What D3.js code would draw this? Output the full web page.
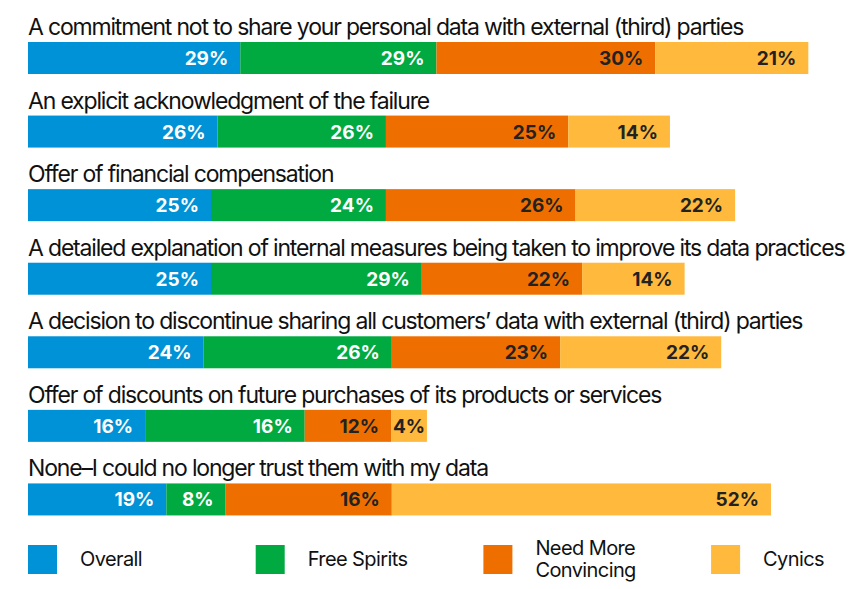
<!DOCTYPE html>
<html>
<head>
<meta charset="utf-8">
<script src="https://cdn.jsdelivr.net/npm/d3@7"></script>
<style>
  body { margin: 0; background: #fff; }
  svg text { font-family: Inter, "Noto Sans", sans-serif; }
</style>
</head>
<body>
<svg id="chart" width="857" height="589"></svg>
<script>
// questions, top to bottom
const questions = [
  "A commitment not to share your personal data with external (third) parties",
  "An explicit acknowledgment of the failure",
  "Offer of financial compensation",
  "A detailed explanation of internal measures being taken to improve its data practices",
  "A decision to discontinue sharing all customers\u2019 data with external (third) parties",
  "Offer of discounts on future purchases of its products or services",
  "None\u2013I could no longer trust them with my data"
];

const groups = ["Overall", "Free Spirits", "Need More Convincing", "Cynics"];

// bar lengths as drawn (percent)
const overall     = [29.0, 25.9, 25.0, 25.0, 24.0, 16.0, 18.9];
const freeSpirits = [26.8, 23.0, 23.9, 28.8, 25.7, 21.8, 8.1];
const needMore    = [29.9, 24.9, 25.9, 21.9, 23.0, 11.8, 22.7];
const cynics      = [20.9, 13.9, 21.8, 14.0, 22.0, 4.9, 51.8];

// printed labels
const overallLbl     = ["29%", "26%", "25%", "25%", "24%", "16%", "19%"];
const freeSpiritsLbl = ["29%", "26%", "24%", "29%", "26%", "16%", "8%"];
const needMoreLbl    = ["30%", "25%", "26%", "22%", "23%", "12%", "16%"];
const cynicsLbl      = ["21%", "14%", "22%", "14%", "22%", "4%", "52%"];

const colors = ["#0092d6", "#00aa40", "#ee6f00", "#ffb93c"];
const labelColors = ["#ffffff", "#ffffff", "#222222", "#222222"];

const series = [overall, freeSpirits, needMore, cynics];
const labels = [overallLbl, freeSpiritsLbl, needMoreLbl, cynicsLbl];

const svg = d3.select("#chart");

const x = d3.scaleLinear().domain([0, 100]).range([28, 760]);
const y = d3.scaleBand().domain(d3.range(questions.length)).range([10, 525]).paddingInner(0).paddingOuter(0);
const barTop = 32, barH = 32, pad = 12;

// stack
const rows = questions.map((q, i) => {
  const r = { idx: i };
  groups.forEach((g, k) => r[g] = series[k][i]);
  return r;
});
const stacked = d3.stack().keys(groups)(rows);

const row = svg.selectAll("g.row")
  .data(questions)
  .join("g")
  .attr("class", "row")
  .attr("transform", (d, i) => `translate(0,${y(i)})`);

row.append("text")
  .attr("x", 28)
  .attr("y", 25)
  .attr("font-size", 23)
  .attr("letter-spacing", -1.18)
  .attr("fill", "#111")
  .text(d => d);

stacked.forEach((layer, k) => {
  svg.selectAll(null)
    .data(layer)
    .join("rect")
    .attr("x", d => x(d[0]))
    .attr("y", (d, i) => y(i) + barTop)
    .attr("width", d => x(d[1]) - x(d[0]))
    .attr("height", barH)
    .attr("fill", colors[k]);

  svg.selectAll(null)
    .data(layer)
    .join("text")
    .attr("y", (d, i) => y(i) + barTop + barH / 2 + 7)
    .attr("font-size", 19)
    .attr("font-weight", 700)
    .attr("fill", labelColors[k])
    .text((d, i) => labels[k][i])
    .each(function(d) {
      // narrow segments get a centred label
      const w = x(d[1]) - x(d[0]);
      const tw = this.getComputedTextLength();
      const t = d3.select(this);
      if (w < tw + 2 * pad) {
        t.attr("x", (x(d[0]) + x(d[1])) / 2).attr("text-anchor", "middle");
      } else {
        t.attr("x", x(d[1]) - pad).attr("text-anchor", "end");
      }
    });
});

// legend
const legend = svg.append("g").attr("transform", "translate(28,545)");
const lg = legend.selectAll("g")
  .data(groups)
  .join("g")
  .attr("transform", (d, i) => `translate(${i * 227.7},0)`);

lg.append("rect")
  .attr("width", 29)
  .attr("height", 29)
  .attr("fill", (d, i) => colors[i]);

lg.append("text")
  .attr("x", 52)
  .attr("y", 21)
  .attr("font-size", 20)
  .attr("letter-spacing", -0.6)
  .attr("fill", "#111")
  .each(function(d) {
    const words = d === "Need More Convincing" ? ["Need More", "Convincing"] : [d];
    const t = d3.select(this);
    words.forEach((w, j) => {
      t.append("tspan")
        .attr("x", 52)
        .attr("dy", words.length > 1 ? (j === 0 ? -11 : 22) : 0)
        .text(w);
    });
  });
</script>
</body>
</html>
